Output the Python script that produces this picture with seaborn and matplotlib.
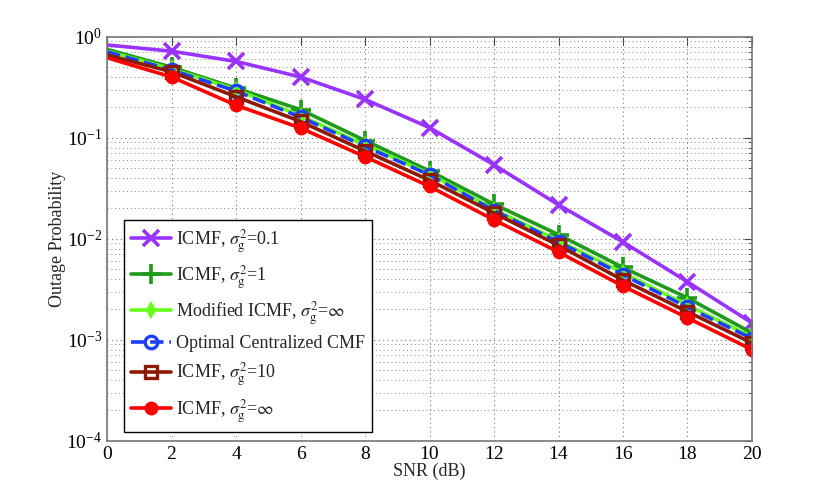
import numpy as np
import matplotlib
matplotlib.use('Agg')
import matplotlib.pyplot as plt
import seaborn as sns
from matplotlib.ticker import LogLocator, LogFormatterMathtext, NullFormatter

snr_db = [0, 2, 4, 6, 8, 10, 12, 14, 16, 18, 20]

icmf_01 = [0.83, 0.72, 0.57, 0.40, 0.24, 0.126, 0.054, 0.0217, 0.0093, 0.00375, 0.00147]
icmf_1 = [0.75, 0.50, 0.31, 0.19, 0.094, 0.047, 0.022, 0.011, 0.0052, 0.0026, 0.00117]
modified_inf = [0.72, 0.48, 0.30, 0.165, 0.085, 0.044, 0.0195, 0.0096, 0.0046, 0.0022, 0.00107]
optimal_cmf = [0.71, 0.47, 0.29, 0.16, 0.082, 0.043, 0.019, 0.0093, 0.0044, 0.0021, 0.00103]
icmf_10 = [0.66, 0.45, 0.255, 0.145, 0.074, 0.038, 0.018, 0.0086, 0.0039, 0.0019, 0.00093]
icmf_inf = [0.62, 0.40, 0.21, 0.125, 0.065, 0.033, 0.0154, 0.0074, 0.0034, 0.00165, 0.00080]

labels = [r'ICMF, $\sigma_{\rm g}^2$=0.1', r'ICMF, $\sigma_{\rm g}^2$=1',
          r'Modified ICMF, $\sigma_{\rm g}^2$=$\infty$', 'Optimal Centralized CMF',
          r'ICMF, $\sigma_{\rm g}^2$=10', r'ICMF, $\sigma_{\rm g}^2$=$\infty$']

sns.set_style('white')
plt.rcParams['font.family'] = ['Liberation Serif', 'DejaVu Serif']
plt.rcParams['mathtext.fontset'] = 'stix'

fig = plt.figure(figsize=(8.3, 4.97), dpi=100)
ax = fig.add_axes([0.129, 0.113, 0.777, 0.813])

series = [
    (icmf_01, '#9933ff', '-', dict(marker='x', markersize=11, markeredgewidth=2.6)),
    (icmf_1, '#1f9a1a', '-', dict(marker='+', markersize=14, markeredgewidth=2.6)),
    (modified_inf, '#66ff1a', '-', dict(marker='d', markersize=7, markeredgewidth=1.5)),
    (optimal_cmf, '#1f3fff', '--', dict(marker='o', markersize=9, markerfacecolor='none',
                                        markeredgewidth=2.4)),
    (icmf_10, '#8b1a00', '-', dict(marker='s', markersize=8, markerfacecolor='none',
                                   markeredgewidth=2.4)),
    (icmf_inf, '#ff0000', '-', dict(marker='o', markersize=9, markeredgewidth=1)),
]
for (vals, col, ls, mk), lab in zip(series, labels):
    # no marker drawn at 0 dB, as in the original figure
    sns.lineplot(x=snr_db, y=vals, ax=ax, color=col, linewidth=2.6, linestyle=ls,
                 markeredgecolor=col, markevery=list(range(1, len(snr_db))), label=lab, **mk)

ax.set_yscale('log')
ax.set_xlim(0, 20)
ax.set_ylim(1e-4, 1)
ax.set_xticks(snr_db)
ax.yaxis.set_major_locator(LogLocator(base=10))
ax.yaxis.set_major_formatter(LogFormatterMathtext())
ax.yaxis.set_minor_locator(LogLocator(base=10, subs=np.arange(2, 10)))
ax.yaxis.set_minor_formatter(NullFormatter())

ax.grid(True, which='major', axis='both', linestyle=(0, (1, 3)), color='#777777', lw=0.8)
ax.grid(True, which='minor', axis='y', linestyle=(0, (1, 3)), color='#888888', lw=0.7)
ax.tick_params(which='both', direction='in', top=True, right=True, colors='#444444',
               labelcolor='black', labelsize=14)
ax.tick_params(which='major', length=6)
ax.tick_params(which='minor', length=3)
for s in ax.spines.values():
    s.set_color('#777777')
    s.set_linewidth(1.2)

ax.set_xlabel('SNR (dB)', fontsize=13, labelpad=0)
ax.set_ylabel('Outage Probability', fontsize=13, labelpad=0)

leg = ax.legend(loc='lower left', bbox_to_anchor=(0.012, 0.0), fontsize=13, frameon=True,
                fancybox=False, edgecolor='black', framealpha=1, handlelength=2.2,
                handletextpad=0.3, labelspacing=0.45, borderpad=0.4)
leg.get_frame().set_linewidth(1.0)

fig.savefig('out.png', dpi=100)
